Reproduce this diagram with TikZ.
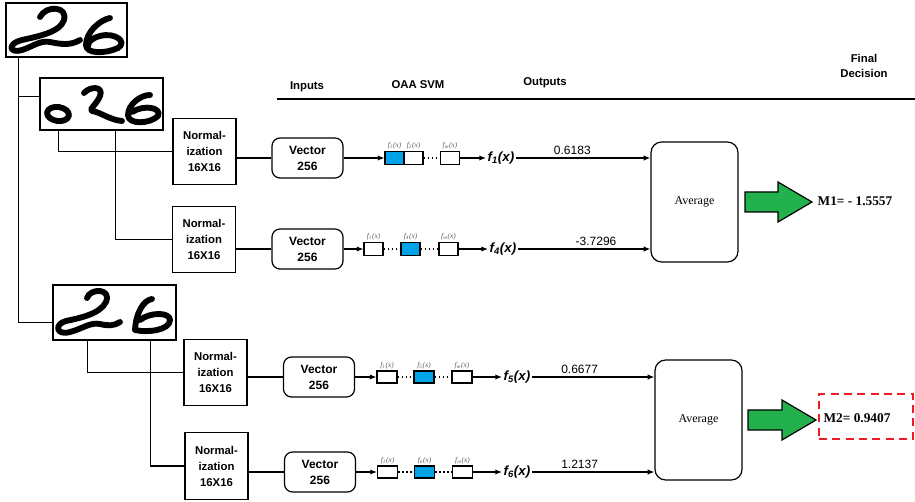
\documentclass[tikz,border=0pt]{standalone}
\usepackage{fontspec}
\setmainfont{Liberation Serif}
\setsansfont{Liberation Sans}
\usetikzlibrary{arrows.meta,calc}

\definecolor{cellblue}{RGB}{0,162,232}
\definecolor{arrowgreen}{RGB}{34,177,76}
\definecolor{dashred}{RGB}{237,28,36}

% output label f_i(x)
\newcommand{\fout}[1]{\fontsize{10}{12}\sffamily\bfseries\itshape f\textsubscript{#1}(x)}
% small label above an SVM cell
\newcommand{\fcell}[1]{f\textsubscript{#1}(x)}

\begin{document}
\begin{tikzpicture}[x=0.75pt,y=-0.75pt,
  imgbox/.style={draw,line width=1.1pt,inner sep=0pt},
  pen/.style={line width=4.4pt,line cap=round,line join=round},
  wire/.style={line width=0.9pt},
  normbox/.style={draw,line width=0.9pt,minimum width=47.25pt,minimum height=50pt,align=center,
    font=\fontsize{8.5}{12}\selectfont\sffamily\bfseries},
  vecbox/.style={draw,line width=0.9pt,rounded corners=6pt,minimum width=53.25pt,minimum height=30pt,
    align=center,font=\fontsize{9}{12}\selectfont\sffamily\bfseries},
  cell/.style={draw,line width=0.8pt,minimum width=14.25pt,minimum height=10pt,inner sep=0pt},
  flab/.style={above,inner sep=1pt,text=black!65,font=\fontsize{5.5}{6}\selectfont\itshape},
  outlab/.style={anchor=west,inner sep=1pt},
  val/.style={above,inner sep=2pt,font=\fontsize{9}{11}\selectfont\sffamily},
  avgbox/.style={draw,line width=0.9pt,rounded corners=8pt,minimum width=65.25pt,minimum height=90pt,
    font=\fontsize{9}{11}\selectfont},
  head/.style={align=center,font=\fontsize{8.5}{11}\selectfont\sffamily\bfseries},
  arr/.style={line width=0.9pt,-{Latex[length=5pt,width=4pt]}},
  dots/.style={line width=1.2pt,dash pattern=on 1.4pt off 1.6pt},
  bigarrow/.style={draw,line width=0.9pt,fill=arrowgreen}]
\useasboundingbox (0,0) rectangle (915,502);

% handwritten images
\node[imgbox,minimum width=90.75pt,minimum height=40.5pt] (img1) at (66.5,30) {};
\node[imgbox,minimum width=92.25pt,minimum height=39pt] (img2) at (101.5,104) {};
\node[imgbox,minimum width=92.25pt,minimum height=41.25pt] (img3) at (114.5,312.5) {};

\draw[pen] (40,17) .. controls (46,5) and (68,6) .. (64,20) .. controls (60,32) and (40,36) .. (22,40)
  .. controls (8,43) and (8,54) .. (22,50) .. controls (32,47) and (40,40) .. (50,42)
  .. controls (60,44) and (70,46) .. (80,40);
\draw[pen] (110,18) .. controls (100,20) and (86,32) .. (86,45) .. controls (86,54) and (105,54) .. (118,48)
  .. controls (128,42) and (115,32) .. (100,36) .. controls (92,38) and (88,42) .. (88,46);

\draw[pen,rotate around={-8:(58,114)}] (58,114) ellipse [x radius=11, y radius=7];
\draw[pen] (84,93) .. controls (90,86) and (104,86) .. (100,96) .. controls (97,104) and (88,110) .. (92,111)
  .. controls (100,112) and (110,120) .. (122,121);
\draw[pen] (150,95) .. controls (140,95) and (128,105) .. (128,115) .. controls (128,125) and (150,124) .. (158,116)
  .. controls (162,108) and (145,104) .. (132,112);

\draw[pen] (87,298) .. controls (90,288) and (112,288) .. (106,302) .. controls (100,314) and (80,318) .. (66,321)
  .. controls (54,324) and (56,336) .. (70,332) .. controls (82,329) and (90,322) .. (100,324)
  .. controls (108,326) and (114,326) .. (120,322);
\draw[pen] (152,299) .. controls (144,300) and (136,312) .. (135,330) .. controls (148,333) and (170,330) .. (170,320)
  .. controls (170,312) and (150,312) .. (140,320);

% normalization and vectors
\node[normbox] (norm1) at (204.5,151.5) {Normal-\\ization\\16X16};
\node[normbox] (norm2) at (204,239.5) {Normal-\\ization\\16X16};
\node[normbox] (norm3) at (215.5,372.5) {Normal-\\ization\\16X16};
\node[normbox] (norm4) at (216.5,466) {Normal-\\ization\\16X16};

\node[vecbox] (vec1) at (307.5,158) {Vector\\256};
\node[vecbox] (vec2) at (307.5,249) {Vector\\256};
\node[vecbox] (vec3) at (319,377) {Vector\\256};
\node[vecbox] (vec4) at (320,472) {Vector\\256};

% tree
\coordinate (t1) at ($(img1.south west)!0.107!(img1.south east)$);
\coordinate (b2) at ($(img2.north west)!0.36!(img2.south west)$);
\coordinate (b3) at ($(img3.north west)!0.68!(img3.south west)$);
\draw[wire] (t1) |- (b3);
\draw[wire] (t1 |- b2) -- (b2);
\draw[wire] ($(img2.south west)!0.155!(img2.south east)$) |- (norm1.west);
\draw[wire] ($(img2.south west)!0.61!(img2.south east)$) |- (norm2.west);
\draw[wire] ($(img3.south west)!0.285!(img3.south east)$) |- (norm3.west);
\draw[wire] ($(img3.south west)!0.79!(img3.south east)$) |- (norm4.west);

\draw[wire] (norm1.east |- vec1) -- (vec1.west);
\draw[wire] (norm2.east |- vec2) -- (vec2.west);
\draw[wire] (norm3.east |- vec3) -- (vec3.west);
\draw[wire] (norm4.east |- vec4) -- (vec4.west);

% headers
\node[head] (hin) at (307,87) {Inputs};
\node[head] (hsvm) at (418,85) {OAA SVM};
\node[head] (hout) at (545,83) {Outputs};
\node[head] (hfin) at (864,66) {Final\\Decision};
\draw[line width=1.3pt] (277,99) -- (915,99);

% average boxes
\node[avgbox] (avg1) at (694.5,202) {Average};
\node[avgbox] (avg2) at (698.5,420) {Average};

% row 1
\node[cell,fill=cellblue] (c11) at (394.5,158) {};
\node[cell] (c12) at (413.5,158) {};
\node[cell] (c13) at (450,158) {};
\node[flab] at (c11.north) {\fcell{1}};
\node[flab] at (c12.north) {\fcell{2}};
\node[flab] at (c13.north) {\fcell{m}};
\node[outlab] (o1) at (486,158) {\fout{1}};
\draw[arr] (vec1.east) -- (c11.west);
\draw[dots] (c12.east) -- (c13.west);
\draw[arr] (c13.east) -- (o1.west);
\draw[arr] (o1.east) -- node[val,pos=0.42] {0.6183} (o1.east -| avg1.west);

% row 2
\node[cell] (c21) at (373.5,249) {};
\node[cell,fill=cellblue] (c22) at (410.5,249) {};
\node[cell] (c23) at (448.5,249) {};
\node[flab] at (c21.north) {\fcell{1}};
\node[flab] at (c22.north) {\fcell{4}};
\node[flab] at (c23.north) {\fcell{m}};
\node[outlab] (o2) at (488,249) {\fout{4}};
\draw[arr] (vec2.east) -- (c21.west);
\draw[dots] (c21.east) -- (c22.west);
\draw[dots] (c22.east) -- (c23.west);
\draw[arr] (c23.east) -- (o2.west);
\draw[arr] (o2.east) -- node[val,pos=0.59] {-3.7296} (o2.east -| avg1.west);

% row 3
\node[cell,minimum height=9pt,minimum width=15pt] (c31) at (387,377) {};
\node[cell,minimum height=9pt,minimum width=15pt,fill=cellblue] (c32) at (424,377) {};
\node[cell,minimum height=9pt,minimum width=15pt] (c33) at (462,377) {};
\node[flab] at (c31.north) {\fcell{1}};
\node[flab] at (c32.north) {\fcell{5}};
\node[flab] at (c33.north) {\fcell{m}};
\node[outlab] (o3) at (502,377) {\fout{5}};
\draw[arr] (vec3.east) -- (c31.west);
\draw[dots] (c31.east) -- (c32.west);
\draw[dots] (c32.east) -- (c33.west);
\draw[arr] (c33.east) -- (o3.west);
\draw[arr] (o3.east) -- node[val,pos=0.39] {0.6677} (o3.east -| avg2.west);

% row 4
\node[cell,minimum height=9pt,minimum width=15pt] (c41) at (387.5,472) {};
\node[cell,minimum height=9pt,minimum width=15pt,fill=cellblue] (c42) at (424.5,472) {};
\node[cell,minimum height=9pt,minimum width=15pt] (c43) at (462.5,472) {};
\node[flab] at (c41.north) {\fcell{1}};
\node[flab] at (c42.north) {\fcell{6}};
\node[flab] at (c43.north) {\fcell{m}};
\node[outlab] (o4) at (502,472) {\fout{6}};
\draw[arr] (vec4.east) -- (c41.west);
\draw[dots] (c41.east) -- (c42.west);
\draw[dots] (c42.east) -- (c43.west);
\draw[arr] (c43.east) -- (o4.west);
\draw[arr] (o4.east) -- node[val,pos=0.39] {1.2137} (o4.east -| avg2.west);

% final decisions
\draw[bigarrow] (745,192) -- (778,192) -- (778,182) -- (812,202) -- (778,222) -- (778,212) -- (745,212) -- cycle;
\draw[bigarrow] (748,410) -- (782,410) -- (782,400) -- (816,420) -- (782,440) -- (782,430) -- (748,430) -- cycle;
\node[font=\fontsize{10}{12}\selectfont\bfseries] (m1) at (855,201) {M1= - 1.5557};
\node[draw=dashred,line width=1.6pt,dash pattern=on 6pt off 4pt,minimum width=70.5pt,minimum height=33.75pt] (m2box) at (866,416.5) {};
\node[font=\fontsize{10}{12}\selectfont\bfseries] (m2) at (857,418) {M2= 0.9407};
\end{tikzpicture}
\end{document}
